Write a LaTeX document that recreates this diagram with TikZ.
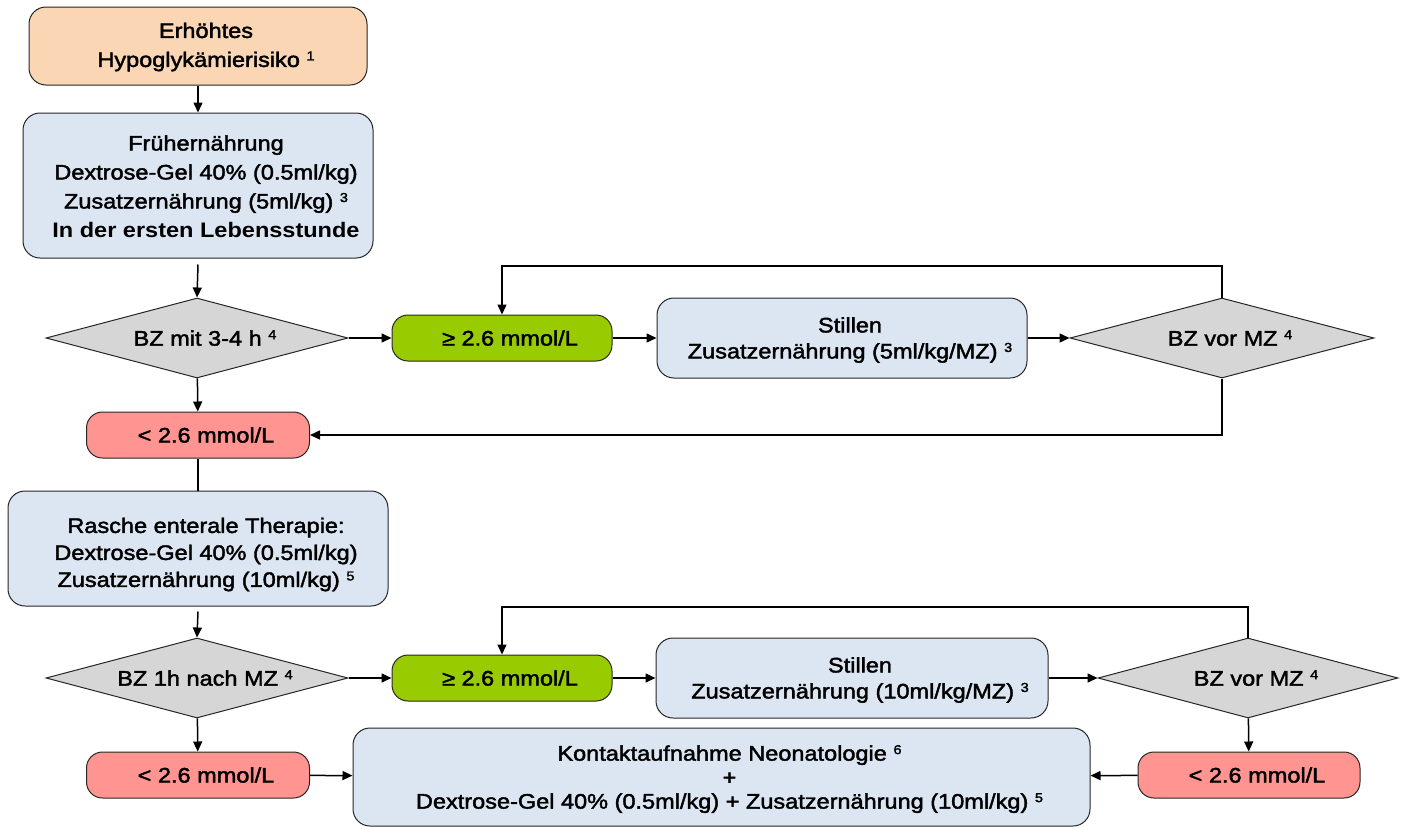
\documentclass[tikz,border=0pt]{standalone}
\usepackage{fontspec}
\setmainfont{Liberation Sans}[FakeStretch=1.12, UprightFeatures={FakeBold=2}]
\usetikzlibrary{shapes.geometric,arrows.meta}
\definecolor{peach}{HTML}{FAD6B4}
\definecolor{paleblue}{HTML}{DCE6F2}
\definecolor{okgreen}{HTML}{99CC00}
\definecolor{lowred}{HTML}{FF9490}
\definecolor{diagray}{HTML}{D6D6D6}
\newcommand{\fn}[1]{\raisebox{6.5pt}{\fontsize{13}{13}\selectfont #1}}
\begin{document}
\begin{tikzpicture}[x=1pt,y=-1pt,
  every node/.style={font=\fontsize{21}{28}\selectfont, align=center, inner sep=0pt},
  lbl/.style 2 args={label={[xshift=8pt,#1]center:#2}},
  box/.style={draw=black!85, line width=1pt, rounded corners=17pt},
  pill/.style={draw=black!85, line width=1pt, rounded corners=16pt, minimum height=46pt},
  dec/.style={draw=black!85, line width=1pt, diamond, aspect=3.8, fill=diagray, minimum height=80pt},
  arr/.style={draw=black, line width=1.5pt, -{Triangle[length=10pt,width=9pt]}},
  ln/.style={draw=black, line width=1.5pt}]
\useasboundingbox (0,0) rectangle (1411,828);

% row 1
\node[box, fill=peach, minimum width=338pt, minimum height=78pt,
  lbl={font=\fontsize{21}{29}\selectfont, yshift=-1pt}{Erhöhtes\\Hypoglykämierisiko \fn{1}}] (risk) at (198,46) {};
\node[box, fill=paleblue, minimum width=350pt, minimum height=145pt,
  lbl={font=\fontsize{21}{29}\selectfont, yshift=-1pt}{Frühernährung\\Dextrose-Gel 40\% (0.5ml/kg)\\Zusatzernährung (5ml/kg) \fn{3}\\\textbf{In der ersten Lebensstunde}}] (early) at (198,185.5) {};

% row 2
\node[dec, minimum width=302pt, lbl={}{BZ mit 3-4 h \fn{4}}] (d1) at (197,338) {};
\node[pill, fill=okgreen, minimum width=220pt, lbl={}{≥ 2.6 mmol/L}] (g1) at (502,338) {};
\node[box, fill=paleblue, minimum width=370pt, minimum height=80pt,
  lbl={font=\fontsize{21}{26}\selectfont, yshift=-2pt}{Stillen\\Zusatzernährung (5ml/kg/MZ) \fn{3}}] (s1) at (842,338) {};
\node[dec, minimum width=304pt, lbl={}{BZ vor MZ \fn{4}}] (d2) at (1222,338) {};
\node[pill, fill=lowred, minimum width=223pt, lbl={}{< 2.6 mmol/L}] (r1) at (198,435) {};

% row 3
\node[box, fill=paleblue, minimum width=380pt, minimum height=115pt,
  lbl={font=\fontsize{21}{27}\selectfont, yshift=-6pt}{Rasche enterale Therapie:\\Dextrose-Gel 40\% (0.5ml/kg)\\Zusatzernährung (10ml/kg) \fn{5}}] (rapid) at (198,548.5) {};
\node[dec, minimum width=302pt, lbl={}{BZ 1h nach MZ \fn{4}}] (d3) at (197,678) {};
\node[pill, fill=okgreen, minimum width=220pt, lbl={}{≥ 2.6 mmol/L}] (g2) at (502,678) {};
\node[box, fill=paleblue, minimum width=392pt, minimum height=80pt,
  lbl={font=\fontsize{21}{26}\selectfont, yshift=-2pt}{Stillen\\Zusatzernährung (10ml/kg/MZ) \fn{3}}] (s2) at (852,678) {};
\node[dec, minimum width=300pt, lbl={}{BZ vor MZ \fn{4}}] (d4) at (1248,678) {};
\node[pill, fill=lowred, minimum width=223pt, lbl={}{< 2.6 mmol/L}] (r2) at (198,775) {};
\node[pill, fill=lowred, minimum width=222pt, lbl={}{< 2.6 mmol/L}] (r3) at (1249,775) {};
\node[box, fill=paleblue, minimum width=737pt, minimum height=98pt,
  lbl={font=\fontsize{21}{24}\selectfont, yshift=-2pt}{Kontaktaufnahme Neonatologie \fn{6}\\+\\Dextrose-Gel 40\% (0.5ml/kg) + Zusatzernährung (10ml/kg) \fn{5}}] (neo) at (721.5,777) {};

\coordinate (loop1) at (1222,266);
\coordinate (loop2) at (1248,607);

% connectors
\draw[arr] (risk) -- (early);
\draw[arr] ([yshift=-6pt]early.south) -- (d1.north);
\draw[arr] (d1) -- (g1);
\draw[arr] (g1) -- (s1);
\draw[arr] (s1) -- (d2);
\draw[arr] (d2.north) -- (loop1) -| (g1.north);
\draw[arr] (d2.south) |- (r1.east);
\draw[arr] (d1) -- (r1);
\draw[ln] (r1) -- (rapid);
\draw[arr] ([yshift=-5pt]rapid.south) -- (d3.north);
\draw[arr] (d3) -- (g2);
\draw[arr] (g2) -- (s2);
\draw[arr] (s2) -- (d4);
\draw[arr] (d4.north) -- (loop2) -| (g2.north);
\draw[arr] (d3) -- (r2);
\draw[arr] (d4) -- (r3);
\draw[arr] (r3) -- (neo);
\draw[arr] (r2) -- (neo);
\end{tikzpicture}
\end{document}
